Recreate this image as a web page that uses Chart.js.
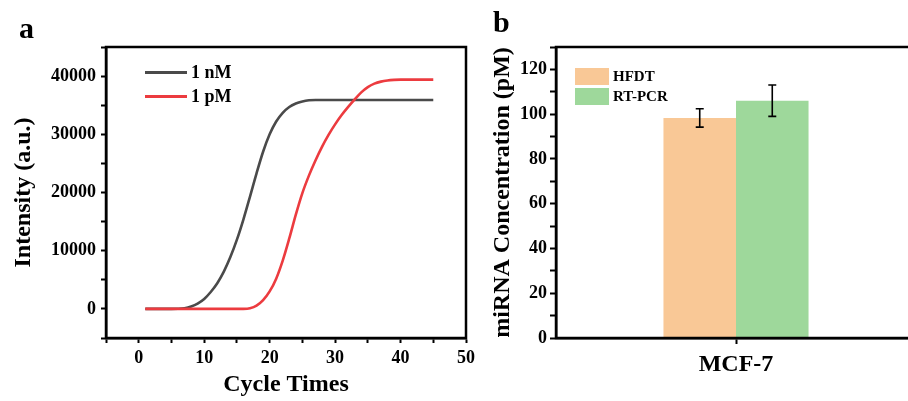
<!DOCTYPE html>
<html>
<head>
<meta charset="utf-8">
<script src="https://cdn.jsdelivr.net/npm/chart.js@4.4.0/dist/chart.umd.min.js"></script>
<style>
body{margin:0;width:908px;height:401px;overflow:hidden;background:#fff;position:relative;
  font-family:"Liberation Serif","Times New Roman",serif;font-weight:bold;color:#000;}
.panel{position:absolute;top:0;height:401px;}
#wrapA{left:0;width:480px;}
#wrapB{left:460px;width:470px;}
.letter{position:absolute;font-size:30px;line-height:30px;}
.row{position:absolute;display:flex;align-items:center;height:22px;white-space:nowrap;}
</style>
</head>
<body>
<div class="panel" id="wrapA"><canvas id="chartA"></canvas></div>
<div class="panel" id="wrapB"><canvas id="chartB"></canvas></div>
<div class="letter" style="left:19px;top:13px;">a</div>
<div class="letter" style="left:493px;top:7px;">b</div>
<div id="legendA"></div>
<div id="legendB"></div>
<script>
// panel a: amplification curves
const cycles = [1,2,3,4,5,6,7,8,9,10,11,12,13,14,15,16,17,18,19,20,21,22,23,
  24,25,26,27,28,29,30,31,32,33,34,35,36,37,38,39,40,41,42,43,44,45];
const nM = [0,0,0,0,0,20,120,400,900,1700,2900,4400,6400,8900,11900,15400,19300,23300,
  27000,30000,32200,33700,34700,35300,35650,35850,35900,35900,35900,35900,35900,35900,
  35900,35900,35900,35900,35900,35900,35900,35900,35900,35900,35900,35900,35900];
const pM = [0,0,0,0,0,0,0,0,0,0,0,0,0,0,0,0,100,550,1500,3000,5200,8300,12100,16200,
  19900,22900,25500,27850,29900,31700,33300,34700,36000,37200,38100,38700,39050,39250,
  39350,39400,39400,39400,39400,39400,39400];
const lineNames = ["1 nM","1 pM"];
const lineColors = ["#4a4a4a","#ec3b3f"];

// panel b: bars with error bars
const samples = ["MCF-7"];
const hfdt = [98.3];
const hfdtErr = [4.1];
const rtpcr = [106];
const rtpcrErr = [7];
const barNames = ["HFDT","RT-PCR"];
const barColors = ["#f9c896","#9ed89b"];

const serif = '"Liberation Serif","Times New Roman",serif';
const tickFont = {family:serif, size:18, weight:'bold'};
const titleFont = {family:serif, size:24, weight:'bold'};

const framePlugin = {
  id:'frame',
  afterDraw(chart){
    const {ctx, chartArea:a} = chart;
    ctx.save();
    ctx.strokeStyle = '#000';
    ctx.lineWidth = 2.5;
    ctx.strokeRect(a.left, a.top, a.right - a.left, a.bottom - a.top);
    ctx.restore();
  }
};

const errorBars = {
  id:'errorBars',
  afterDatasetsDraw(chart){
    const ctx = chart.ctx, y = chart.scales.y;
    chart.data.datasets.forEach((ds, i) => {
      chart.getDatasetMeta(i).data.forEach((bar, j) => {
        const v = ds.data[j], e = ds.errors[j];
        const top = y.getPixelForValue(v + e), bot = y.getPixelForValue(v - e);
        ctx.save();
        ctx.strokeStyle = '#000';
        ctx.lineWidth = 1.6;
        ctx.beginPath();
        ctx.moveTo(bar.x, top); ctx.lineTo(bar.x, bot);
        ctx.moveTo(bar.x - 4, top); ctx.lineTo(bar.x + 4, top);
        ctx.moveTo(bar.x - 4, bot); ctx.lineTo(bar.x + 4, bot);
        ctx.stroke();
        ctx.restore();
      });
    });
  }
};

function axisGrid(len){
  return {drawOnChartArea:false, drawTicks:true, tickLength:len, tickWidth:2, tickColor:'#000'};
}

new Chart(document.getElementById('chartA'), {
  type:'line',
  data:{
    datasets:[
      {label:lineNames[0], data:cycles.map((c, i) => ({x:c, y:nM[i]})),
       borderColor:lineColors[0], borderWidth:2.6, pointRadius:0, order:1,
       cubicInterpolationMode:'monotone'},
      {label:lineNames[1], data:cycles.map((c, i) => ({x:c, y:pM[i]})),
       borderColor:lineColors[1], borderWidth:2.6, pointRadius:0, order:0,
       cubicInterpolationMode:'monotone'}
    ]
  },
  options:{
    responsive:true, maintainAspectRatio:false, animation:false,
    layout:{padding:{top:47, right:13, left:0, bottom:0}},
    plugins:{legend:{display:false}, tooltip:{enabled:false}},
    scales:{
      x:{type:'linear', min:-5, max:50,
        ticks:{stepSize:5, autoSkip:false, padding:5, color:'#000', font:tickFont,
          callback:v => v % 10 === 0 ? String(v) : ''},
        grid:axisGrid(5),
        border:{display:true, color:'#000', width:2.5},
        title:{display:true, text:'Cycle Times', color:'#000', font:titleFont, padding:{top:0, bottom:2}},
        afterFit:s => { s.height = 63; }
      },
      y:{min:-5000, max:45000,
        ticks:{stepSize:5000, autoSkip:false, padding:5, color:'#000', font:tickFont,
          callback:v => v % 10000 === 0 ? String(v) : ''},
        grid:axisGrid(5),
        border:{display:true, color:'#000', width:2.5},
        title:{display:true, text:'Intensity (a.u.)', color:'#000', font:titleFont, padding:{top:9, bottom:0}},
        afterFit:s => { s.width = 106; }
      }
    }
  },
  plugins:[framePlugin]
});

new Chart(document.getElementById('chartB'), {
  type:'bar',
  data:{
    labels:samples,
    datasets:[
      {label:barNames[0], data:hfdt, errors:hfdtErr, backgroundColor:barColors[0]},
      {label:barNames[1], data:rtpcr, errors:rtpcrErr, backgroundColor:barColors[1]}
    ]
  },
  options:{
    responsive:true, maintainAspectRatio:false, animation:false,
    layout:{padding:{top:47, right:14, left:0, bottom:0}},
    plugins:{legend:{display:false}, tooltip:{enabled:false}},
    datasets:{bar:{barPercentage:1, categoryPercentage:0.403}},
    scales:{
      x:{offset:true,
        ticks:{padding:6, color:'#000', font:{family:serif, size:24, weight:'bold'}},
        grid:Object.assign(axisGrid(6), {offset:false}),
        border:{display:true, color:'#000', width:2.5},
        afterFit:s => { s.height = 63; }
      },
      y:{min:0, max:130,
        ticks:{stepSize:10, autoSkip:false, padding:3, color:'#000', font:tickFont,
          callback:v => v % 20 === 0 ? String(v) : ''},
        grid:axisGrid(6),
        border:{display:true, color:'#000', width:2.5},
        title:{display:true, text:'miRNA Concentration (pM)', color:'#000', font:titleFont, padding:{top:28, bottom:0}},
        afterFit:s => { s.width = 96; }
      }
    }
  },
  plugins:[framePlugin, errorBars]
});

// legends inside the plot areas
const legA = document.getElementById('legendA');
lineNames.forEach((name, i) => {
  const row = document.createElement('div');
  row.className = 'row';
  row.style.left = '145px';
  row.style.top = (61 + i * 24) + 'px';
  row.style.fontSize = '18px';
  row.innerHTML = '<span style="display:inline-block;width:42px;height:3px;margin-right:4px;background:' +
    lineColors[i] + '"></span>' + name;
  legA.appendChild(row);
});
const legB = document.getElementById('legendB');
barNames.forEach((name, i) => {
  const row = document.createElement('div');
  row.className = 'row';
  row.style.left = '575px';
  row.style.top = (65.5 + i * 19.5) + 'px';
  row.style.fontSize = '15px';
  row.innerHTML = '<span style="display:inline-block;width:34px;height:17px;margin-right:4px;background:' +
    barColors[i] + '"></span>' + name;
  legB.appendChild(row);
});
</script>
</body>
</html>
